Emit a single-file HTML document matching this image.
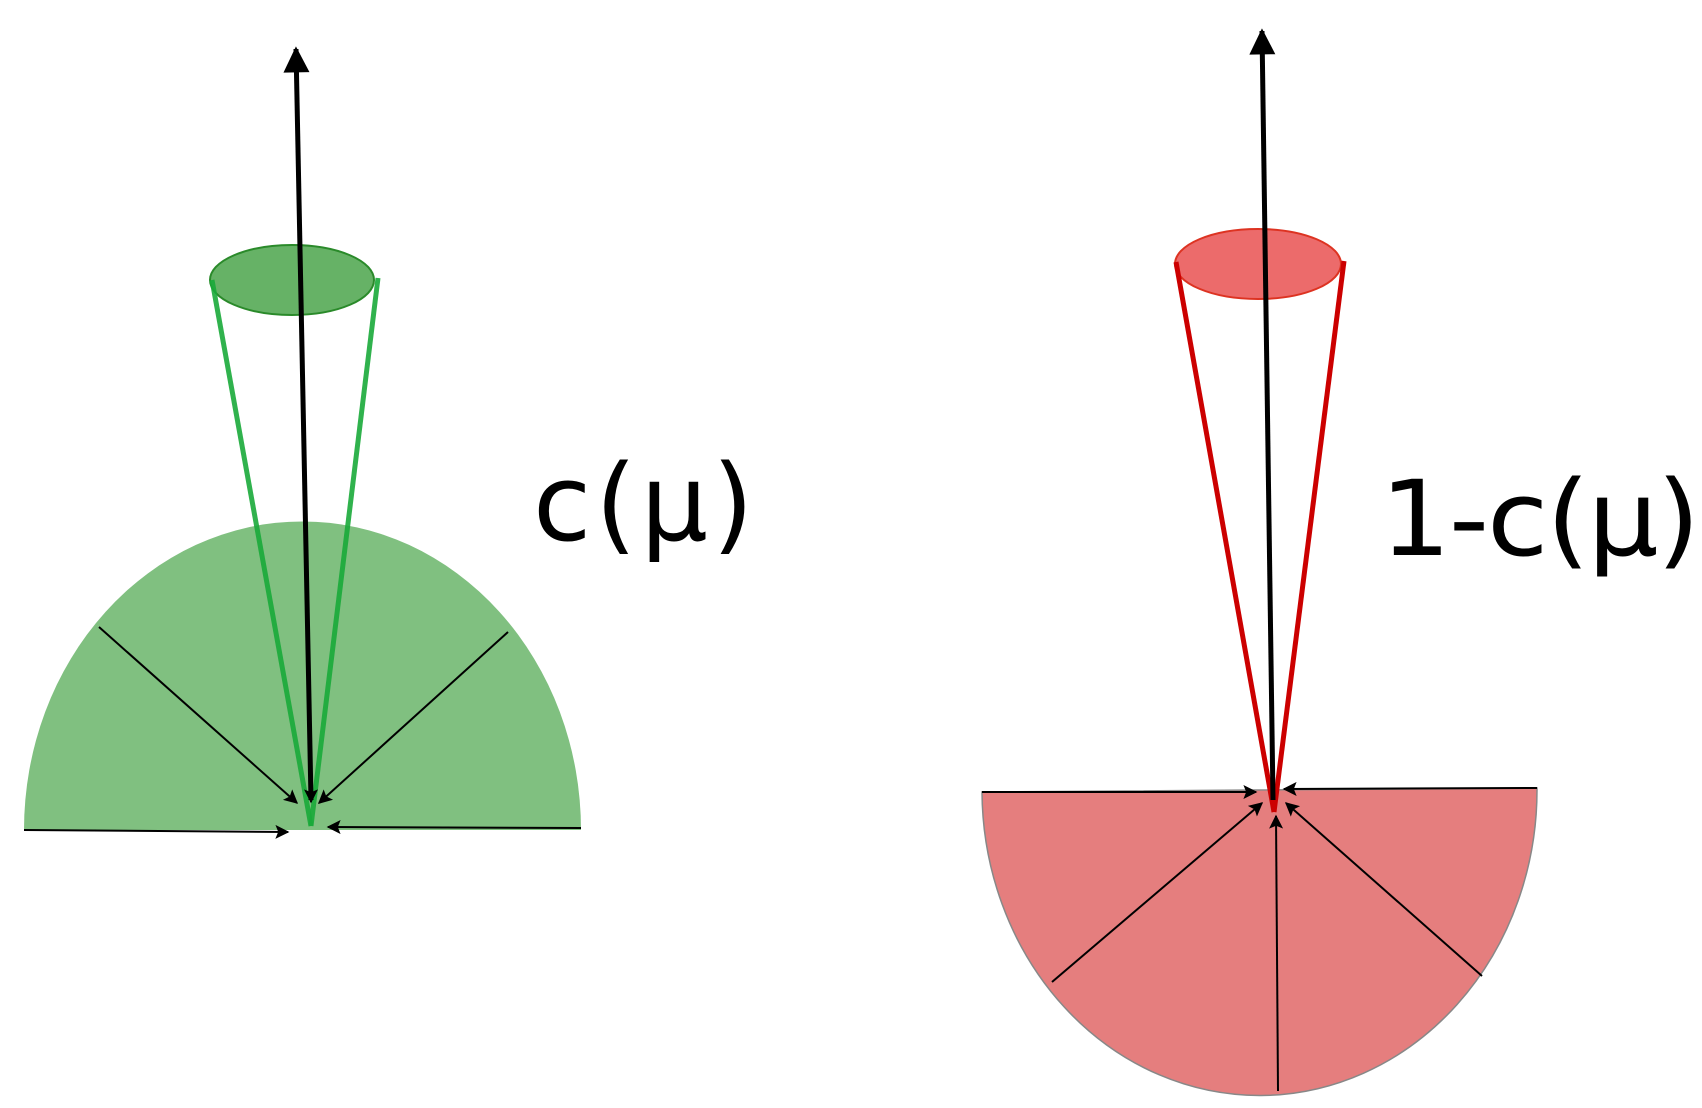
<!DOCTYPE html>
<html><head><meta charset="utf-8"><style>html,body{margin:0;padding:0;background:#fff;}svg{display:block}</style></head>
<body>
<svg width="1702" height="1108" viewBox="0 0 1702 1108" xmlns="http://www.w3.org/2000/svg">
<defs>
<marker id="ah" viewBox="0 0 10 10" refX="9" refY="5" markerWidth="16" markerHeight="14" markerUnits="userSpaceOnUse" orient="auto"><path d="M0,0 L10,5 L0,10 L2,5 z" fill="#000"/></marker>
<marker id="big" viewBox="0 0 10 10" refX="9" refY="5" markerWidth="50" markerHeight="26" markerUnits="userSpaceOnUse" orient="auto"><path d="M0,0 L10,5 L0,10 z" fill="#000"/></marker>
</defs>
<!-- GREEN -->
<path d="M24,830 A278,308 0 0 1 581,830 Z" fill="#80c080"/>
<g stroke="#000" stroke-width="2" fill="none" marker-end="url(#ah)">
<line x1="99" y1="627" x2="297" y2="803"/>
<line x1="508" y1="632" x2="319" y2="803"/>
<line x1="24" y1="830" x2="288" y2="832"/>
<line x1="581" y1="828" x2="328" y2="827"/>
</g>
<ellipse cx="292" cy="280" rx="82" ry="35" fill="#66b266" stroke="#2a8a2a" stroke-width="2"/>
<line x1="212" y1="280" x2="311" y2="826" stroke="#1aaa3a" stroke-width="5" opacity="0.9"/>
<line x1="378" y1="278" x2="311" y2="826" stroke="#1aaa3a" stroke-width="5" opacity="0.9"/>
<line x1="311" y1="800" x2="296" y2="49" stroke="#000" stroke-width="5" marker-end="url(#big)"/>
<line x1="311" y1="790" x2="311" y2="802" stroke="#000" stroke-width="2" marker-end="url(#ah)"/>
<text x="533" y="540" font-family="DejaVu Sans, sans-serif" font-size="106" letter-spacing="4" fill="#000">c(μ)</text>
<!-- RED -->
<path d="M982,792 L1537,788 A277,305 0 0 1 982,792 Z" fill="#e57e7e" stroke="#888" stroke-width="1.5"/>
<g stroke="#000" stroke-width="2" fill="none" marker-end="url(#ah)">
<line x1="982" y1="792" x2="1256" y2="792"/>
<line x1="1537" y1="788" x2="1284" y2="789"/>
<line x1="1052" y1="982" x2="1262" y2="803"/>
<line x1="1278" y1="1091" x2="1276" y2="816"/>
<line x1="1482" y1="976" x2="1286" y2="803"/>
</g>
<ellipse cx="1258" cy="264" rx="83" ry="35" fill="#ec6b6b" stroke="#dd3322" stroke-width="2"/>
<line x1="1176" y1="262" x2="1274" y2="812" stroke="#cc0000" stroke-width="5"/>
<line x1="1344" y1="261" x2="1274" y2="812" stroke="#cc0000" stroke-width="5"/>
<line x1="1273" y1="800" x2="1262" y2="31" stroke="#000" stroke-width="5" marker-end="url(#big)"/>
<text x="1380" y="555" font-family="DejaVu Sans, sans-serif" font-size="104" letter-spacing="-2" textLength="318" lengthAdjust="spacingAndGlyphs" fill="#000">1-c(μ)</text>
</svg>
</body></html>
